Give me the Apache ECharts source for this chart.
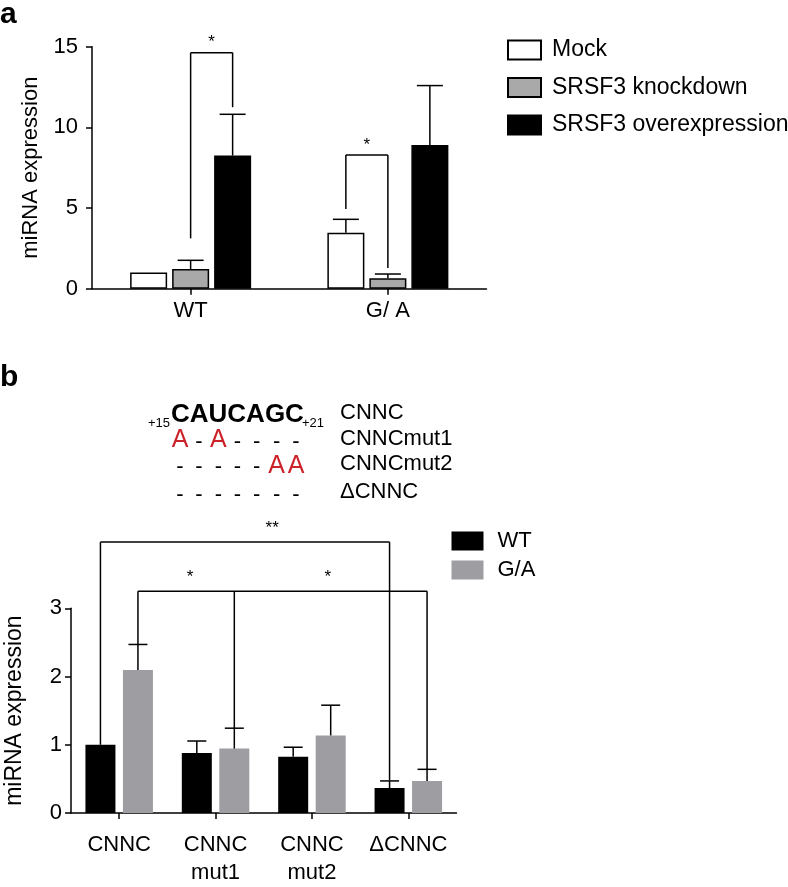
<!DOCTYPE html>
<html><head><meta charset="utf-8">
<script src="https://cdn.jsdelivr.net/npm/echarts@6/dist/echarts.min.js"></script>
<style>html,body{margin:0;padding:0;background:#fff}#c{width:788px;height:887px}</style>
</head><body><div id="c"></div>
<script>
const FONT = '"Liberation Sans", Arial, Helvetica, sans-serif';

// ---------- Panel a data ----------
const catsA = ['WT', 'G/ A'];
const namesA = ['Mock', 'SRSF3 knockdown', 'SRSF3 overexpression'];
const mockA = [1.0, 3.47];
const knockdownA = [1.22, 0.64];
const overexpA = [8.25, 8.91];
const mockErrA = [null, 4.30];
const knockdownErrA = [1.76, 0.91];
const overexpErrA = [10.81, 12.59];
const yTicksA = [0, 5, 10, 15];
// significance brackets: legs [category, barIndex, legBottom], top level, marks
const sigA = [
  {legs: [[0, 1, 3.12], [0, 2, 11.25]], top: 14.63, marks: ['*'], at: [0.5]},
  {legs: [[1, 0, 4.94], [1, 1, 1.28]], top: 8.29, marks: ['*'], at: [0.5]}
];

// ---------- Panel b data ----------
const catsB = ['CNNC', 'CNNC\nmut1', 'CNNC\nmut2', '\u0394CNNC'];
const namesB = ['WT', 'G/A'];
const wtB = [1.0, 0.88, 0.824, 0.366];
const gaB = [2.095, 0.944, 1.137, 0.47];
const wtErrB = [null, 1.055, 0.964, 0.47];
const gaErrB = [2.47, 1.243, 1.58, 0.64];
const yTicksB = [0, 1, 2, 3];
const sigB = [
  {legs: [[0, 0, 1.0], [3, 0, 0.48]], top: 3.97, marks: ['**'], at: [0.594]},
  {legs: [[0, 1, 2.47], [1, 1, 1.24], [3, 1, 0.64]], top: 3.25, marks: ['*', '*'], at: [0.54, 0.485]}
];

// sequence annotation
const seqMotif = 'CAUCAGC';
const seqRows = [
  {label: 'CNNC'},
  {label: 'CNNCmut1', chars: ['A', '-', 'A', '-', '-', '-', '-']},
  {label: 'CNNCmut2', chars: ['-', '-', '-', '-', '-', 'A', 'A']},
  {label: '\u0394CNNC', chars: ['-', '-', '-', '-', '-', '-', '-']}
];

// ---------- layout / style ----------
const BW_A = 37, GAP_A = 5;
const BW_B = 30, GAP_B = 7.5;
const offA = i => (i - 1) * (BW_A + GAP_A);
const offB = i => (i - 0.5) * (BW_B + GAP_B);
const LW = 1.5;

function errSeries(name, xi, yi, vals, errs, offset, capW) {
  const data = [];
  vals.forEach((v, i) => { if (errs[i] != null) data.push([i, v, errs[i]]); });
  return {
    type: 'custom', name: name, xAxisIndex: xi, yAxisIndex: yi, clip: false, z: 5,
    encode: {x: 0, y: [1, 2]}, data: data, silent: true,
    renderItem: function (params, api) {
      const b = api.coord([api.value(0), api.value(1)]);
      const t = api.coord([api.value(0), api.value(2)]);
      const x = b[0] + offset;
      return {type: 'group', children: [
        {type: 'line', shape: {x1: x, y1: b[1], x2: x, y2: t[1]}, style: {stroke: '#000', lineWidth: LW}},
        {type: 'line', shape: {x1: x - capW / 2, y1: t[1], x2: x + capW / 2, y2: t[1]}, style: {stroke: '#000', lineWidth: LW}}
      ]};
    }
  };
}

function sigSeries(name, xi, yi, sig, offFn, starDy, starSize) {
  return {
    type: 'custom', name: name, xAxisIndex: xi, yAxisIndex: yi, clip: false, z: 6, silent: true,
    encode: {x: 0, y: 1},
    data: sig.map(s => [s.legs[0][0], s.top]),
    renderItem: function (params, api) {
      const s = sig[params.dataIndex];
      const topY = api.coord([0, s.top])[1];
      const legs = s.legs.map(l => { const p = api.coord([l[0], l[2]]); return [p[0] + offFn(l[1]), p[1]]; });
      const ch = [];
      ch.push({type: 'line', shape: {x1: legs[0][0], y1: topY, x2: legs[legs.length - 1][0], y2: topY}, style: {stroke: '#000', lineWidth: LW}});
      legs.forEach(p => ch.push({type: 'line', shape: {x1: p[0], y1: topY, x2: p[0], y2: p[1]}, style: {stroke: '#000', lineWidth: LW}}));
      s.marks.forEach((m, k) => {
        const x = legs[k][0] + (legs[k + 1][0] - legs[k][0]) * s.at[k];
        ch.push({type: 'text', style: {x: x, y: topY - starDy, text: m, fill: '#000', font: starSize + 'px ' + FONT, textAlign: 'center', textVerticalAlign: 'middle'}});
      });
      return {type: 'group', children: ch};
    }
  };
}

const axisLineStyle = {show: true, lineStyle: {color: '#000', width: LW}};
const tickStyle = {show: true, length: 6, lineStyle: {color: '#000', width: LW}};

// graphic annotations
const graphics = [
  {type: 'text', left: 0, top: 0, style: {text: 'a', font: 'bold 30px ' + FONT, fill: '#000'}},
  {type: 'text', left: 0, top: 363, style: {text: 'b', font: 'bold 30px ' + FONT, fill: '#000'}},
  {type: 'text', x: 170, y: 423, style: {text: '+15', font: '13px ' + FONT, fill: '#000', textAlign: 'right', textVerticalAlign: 'middle'}},
  {type: 'text', x: 171, y: 415, style: {text: seqMotif, font: 'bold 26px ' + FONT, fill: '#000', textAlign: 'left', textVerticalAlign: 'middle'}},
  {type: 'text', x: 302, y: 423, style: {text: '+21', font: '13px ' + FONT, fill: '#000', textAlign: 'left', textVerticalAlign: 'middle'}}
];
const rowY = [413, 438.5, 464, 491.5];
const colX = [180, 199, 218.3, 237.5, 256.7, 276.7, 296];
seqRows.forEach((r, ri) => {
  graphics.push({type: 'text', x: 340, y: rowY[ri], style: {text: r.label, font: '22px ' + FONT, fill: '#000', textAlign: 'left', textVerticalAlign: 'middle'}});
  if (r.chars) r.chars.forEach((c, ci) => {
    const red = c !== '-';
    graphics.push({type: 'text', x: colX[ci], y: rowY[ri] + (red ? 2 : 3), style: {
      text: c, font: (red ? '25px ' : '22px ') + FONT, fill: red ? '#cc2229' : '#000',
      textAlign: 'center', textVerticalAlign: 'middle'}});
  });
});

const option = {
  animation: false,
  backgroundColor: '#fff',
  textStyle: {fontFamily: FONT, color: '#000'},
  grid: [
    {left: 92, top: 46.7, width: 394.5, height: 242},
    {left: 71, top: 608.3, width: 385.5, height: 207.7}
  ],
  legend: [
    {data: namesA, orient: 'vertical', left: 507, top: 38.5, padding: 0, itemWidth: 33, itemHeight: 19, itemGap: 14.5,
     textStyle: {fontSize: 23, color: '#000', fontFamily: FONT, padding: [0, 0, 0, 6]}, selectedMode: false, icon: 'rect'},
    {data: namesB, orient: 'vertical', left: 451.5, top: 530, padding: 0, itemWidth: 32, itemHeight: 19, itemGap: 7,
     textStyle: {fontSize: 22, color: '#000', fontFamily: FONT, padding: [0, 0, 0, 9]}, selectedMode: false, icon: 'rect'}
  ],
  xAxis: [
    {type: 'category', gridIndex: 0, data: catsA, axisLine: axisLineStyle, axisTick: Object.assign({alignWithLabel: true}, tickStyle),
     axisLabel: {fontSize: 22, color: '#000', margin: 11, fontFamily: FONT}},
    {type: 'category', gridIndex: 1, data: catsB, axisLine: axisLineStyle, axisTick: Object.assign({alignWithLabel: true}, tickStyle),
     axisLabel: {fontSize: 22, color: '#000', margin: 18, lineHeight: 28, fontFamily: FONT, interval: 0}}
  ],
  yAxis: [
    {type: 'value', gridIndex: 0, min: yTicksA[0], max: yTicksA[yTicksA.length - 1], interval: yTicksA[1] - yTicksA[0],
     name: 'miRNA expression', nameLocation: 'middle', nameGap: 50, nameTextStyle: {fontSize: 22, color: '#000', fontFamily: FONT},
     axisLine: axisLineStyle, axisTick: tickStyle, splitLine: {show: false},
     axisLabel: {fontSize: 22, color: '#000', margin: 14, fontFamily: FONT}},
    {type: 'value', gridIndex: 1, min: yTicksB[0], max: yTicksB[yTicksB.length - 1], interval: yTicksB[1] - yTicksB[0],
     name: 'miRNA expression', nameLocation: 'middle', nameGap: 45, nameTextStyle: {fontSize: 23, color: '#000', fontFamily: FONT},
     axisLine: axisLineStyle, axisTick: tickStyle, splitLine: {show: false},
     axisLabel: {fontSize: 22, color: '#000', margin: 9, fontFamily: FONT}}
  ],
  graphic: graphics,
  series: [
    {type: 'bar', name: namesA[0], xAxisIndex: 0, yAxisIndex: 0, data: mockA, barWidth: BW_A, barGap: (GAP_A / BW_A * 100) + '%',
     itemStyle: {color: '#ffffff', borderColor: '#000', borderWidth: LW}},
    {type: 'bar', name: namesA[1], xAxisIndex: 0, yAxisIndex: 0, data: knockdownA, barWidth: BW_A, barGap: (GAP_A / BW_A * 100) + '%',
     itemStyle: {color: '#a9a9a9', borderColor: '#000', borderWidth: LW}},
    {type: 'bar', name: namesA[2], xAxisIndex: 0, yAxisIndex: 0, data: overexpA, barWidth: BW_A, barGap: (GAP_A / BW_A * 100) + '%',
     itemStyle: {color: '#000000', borderColor: '#000', borderWidth: LW}},
    errSeries('errA0', 0, 0, mockA, mockErrA, offA(0), 26),
    errSeries('errA1', 0, 0, knockdownA, knockdownErrA, offA(1), 26),
    errSeries('errA2', 0, 0, overexpA, overexpErrA, offA(2), 26),
    sigSeries('sigA', 0, 0, sigA, offA, 10, 17),

    {type: 'bar', name: namesB[0], xAxisIndex: 1, yAxisIndex: 1, data: wtB, barWidth: BW_B, barGap: (GAP_B / BW_B * 100) + '%',
     itemStyle: {color: '#000000'}},
    {type: 'bar', name: namesB[1], xAxisIndex: 1, yAxisIndex: 1, data: gaB, barWidth: BW_B, barGap: (GAP_B / BW_B * 100) + '%',
     itemStyle: {color: '#9d9da2'}},
    errSeries('errB0', 1, 1, wtB, wtErrB, offB(0), 19),
    errSeries('errB1', 1, 1, gaB, gaErrB, offB(1), 19),
    sigSeries('sigB', 1, 1, sigB, offB, 14, 17)
  ]
};

const chart = echarts.init(document.getElementById('c'), null, {renderer: 'canvas'});
chart.setOption(option);
</script>
</body></html>
